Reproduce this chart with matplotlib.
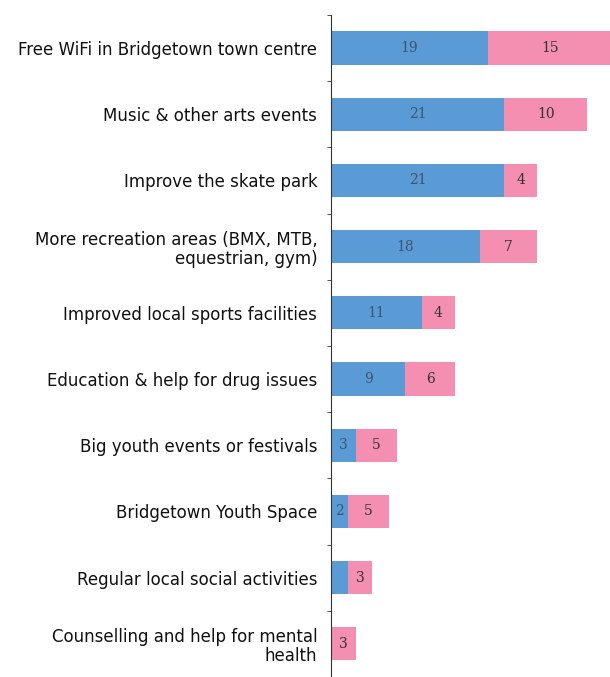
import matplotlib
matplotlib.use("Agg")
import matplotlib.pyplot as plt
import numpy as np

categories = [
    "Free WiFi in Bridgetown town centre",
    "Music & other arts events",
    "Improve the skate park",
    "More recreation areas (BMX, MTB,\nequestrian, gym)",
    "Improved local sports facilities",
    "Education & help for drug issues",
    "Big youth events or festivals",
    "Bridgetown Youth Space",
    "Regular local social activities",
    "Counselling and help for mental\nhealth",
]
blue_vals = [19, 21, 21, 18, 11, 9, 3, 2, 2, 0]
pink_vals = [15, 10, 4, 7, 4, 6, 5, 5, 3, 3]
# which blue values get a label printed on the bar
blue_show = [True, True, True, True, True, True, True, True, False, False]

blue = "#5b9bd5"
pink = "#f48fb1"

plt.rcParams['font.family'] = ['DejaVu Sans']

fig = plt.figure(figsize=(6.10, 6.77), dpi=100)
ax = fig.add_axes([0.543, 0.0, 0.457, 0.978])

y = np.arange(len(categories))
ax.barh(y, blue_vals, height=0.5, color=blue)
ax.barh(y, pink_vals, left=blue_vals, height=0.5, color=pink)

for i in range(len(categories)):
    if blue_vals[i] > 0 and blue_show[i]:
        ax.text(blue_vals[i] / 2, y[i], str(blue_vals[i]), ha='center', va='center',
                fontsize=10, color='#3a5670', family='DejaVu Serif')
    ax.text(blue_vals[i] + pink_vals[i] / 2, y[i], str(pink_vals[i]), ha='center',
            va='center', fontsize=10, color='#333333', family='DejaVu Serif')

ax.set_xlim(0, 33.8)
ax.set_ylim(len(categories) - 0.5, -0.5)
ax.set_yticks(y)
ax.set_yticklabels(categories, fontsize=12, color='#111111', linespacing=1.1)
ax.tick_params(axis='y', length=0, pad=10)
ax.set_yticks(np.arange(len(categories) + 1) - 0.5, minor=True)
ax.tick_params(axis='y', which='minor', length=3, color='#333333')
ax.set_xticks([])
for s in ['top', 'right', 'bottom']:
    ax.spines[s].set_visible(False)
ax.spines['left'].set_color('#333333')
ax.spines['left'].set_linewidth(0.8)

fig.savefig("out.png", dpi=100)
